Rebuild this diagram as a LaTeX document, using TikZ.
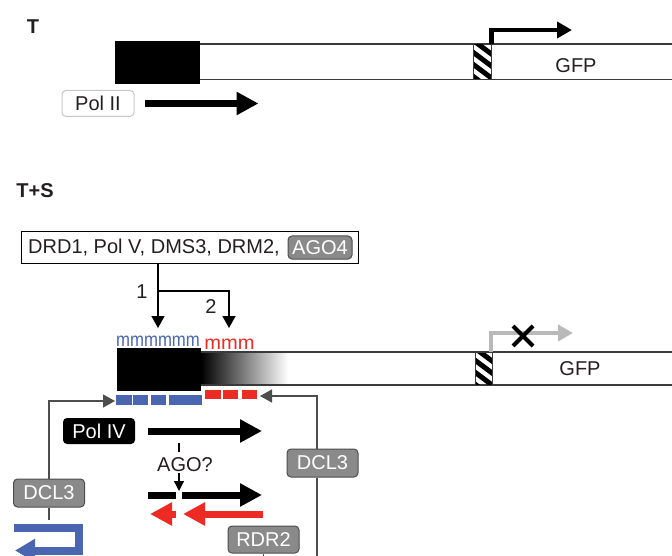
\documentclass[tikz,border=0pt]{standalone}
\usepackage{fontspec}
\usepackage{graphicx}
\setmainfont{Liberation Sans}
\usetikzlibrary{arrows.meta}
\definecolor{boxgray}{HTML}{8A8A8A}
\definecolor{boxedge}{HTML}{4D4D4D}
\definecolor{myblue}{HTML}{4A66B0}
\definecolor{myred}{HTML}{EE2A24}
\definecolor{lightarr}{HTML}{B9B9B9}
\definecolor{conngray}{HTML}{4D4D4D}
\definecolor{dnaline}{HTML}{3A3A3A}
\definecolor{txt}{HTML}{231F20}
\tikzset{
  lbl/.style={font=\fontsize{20}{24}\selectfont, text=txt, inner sep=0pt},
  ttl/.style={font=\fontsize{20}{24}\selectfont\bfseries, text=txt, inner sep=0pt},
  graybox/.style={draw=boxedge, fill=boxgray, rounded corners=4pt, line width=1pt, text=white, font=\fontsize{20}{24}\selectfont, minimum width=71pt, minimum height=28pt, inner sep=0pt},
  polbox/.style={rounded corners=4pt, line width=1pt, font=\fontsize{20}{24}\selectfont, minimum width=72pt, minimum height=26pt, inner sep=0pt},
  dna/.style={draw=dnaline, line width=1.2pt},
  bigarrow/.style={line width=7pt, -{Triangle[length=22pt,width=22pt]}},
  thinarrow/.style={draw=conngray, line width=1.5pt, -{Triangle[length=12pt,width=13pt]}},
  conn/.style={draw=conngray, line width=1.5pt},
  prom/.style={line width=4.5pt, line join=miter, -{Triangle[length=15pt,width=16pt]}},
  hatchstripe/.style={line width=5pt},
}
\begin{document}
\begin{tikzpicture}[x=1pt,y=-1pt]
\useasboundingbox (0,0) rectangle (672,556);
% ---------------- T ----------------
\node[ttl] (tlab) at (33,27) {T};
\fill[black] (115,41) rectangle (200,84);
\draw[dna] (200,44) -- (672,44);
\draw[dna] (200,79.5) -- (672,79.5);
\begin{scope}
  \clip (473,44) rectangle (491,79.5);
  \foreach \y in {26,38,...,86} \draw[hatchstripe] (470,\y) -- (494,\y+18);
\end{scope}
\draw[dna, line width=1pt] (473,44) rectangle (491,79.5);
\draw[prom] (491.5,44) -- (491.5,30) -- (572,30);
\node[lbl] (gfp1) at (576,66) {GFP};
\node[polbox, draw=black!22, fill=white, text=txt] (pol2) at (98,103.5) {Pol II};
\draw[bigarrow] ([xshift=10pt]pol2.east) -- ++(114,0);
% ---------------- T+S ----------------
\node[ttl] (tslab) at (35,191) {T+S};
\node[draw=black, line width=1pt, minimum width=337pt, minimum height=31pt, inner sep=0pt] (drd) at (189.5,247.5) {};
\node[lbl, anchor=west] (drdtxt) at (28,248) {DRD1, Pol V, DMS3, DRM2,};
\node[graybox, minimum width=64pt, minimum height=23pt] (ago4) at (320,247.5) {AGO4};
\coordinate (br) at (158,291);
\draw[thinarrow, draw=black] (drd.south -| br) -- (158,328);
\draw[thinarrow, draw=black] (br) -- (229,291) -- (229,328);
\node[lbl] (n1) at (142,292) {1};
\node[lbl] (n2) at (211,307) {2};
\node[font=\fontsize{19.5}{22}\selectfont, text=myblue, inner sep=0pt] (mblue) at (158,341.5) {\scalebox{0.86}[1]{mmmmmm}};
\node[font=\fontsize{19.5}{22}\selectfont, text=myred, inner sep=0pt] (mred) at (229.5,344.5) {\scalebox{1.03}[1]{mmm}};
\fill[black] (117,348) rectangle (201,391);
\shade[left color=black, right color=white] (201,352) rectangle (288,385);
\draw[dna] (201,352) -- (672,352);
\draw[dna] (201,385) -- (672,385);
\begin{scope}
  \clip (475,352) rectangle (492,385);
  \foreach \y in {334,346,...,394} \draw[hatchstripe] (472,\y) -- (496,\y+18);
\end{scope}
\draw[dna, line width=1pt] (475,352) rectangle (492,385);
\draw[prom, draw=lightarr] (491,352) -- (491,333) -- (573,333);
\draw[line width=4pt] (513,326) -- (533,346) (513,346) -- (533,326);
\node[lbl] (gfp2) at (580,369) {GFP};
% small RNA dashes
\fill[myblue] (116,395) rectangle (131.5,405);
\fill[myblue] (133,395) rectangle (148,405);
\fill[myblue] (151,395) rectangle (166,405);
\fill[myblue] (169,395) rectangle (202,405);
\fill[myred] (205,390) rectangle (221,399);
\fill[myred] (223,390) rectangle (237.5,399);
\fill[myred] (242,390) rectangle (257,399);
% Pol IV
\node[polbox, fill=black, text=white] (pol4) at (99,431) {Pol IV};
\draw[bigarrow] ([xshift=12pt]pol4.east) -- (262,431);
\node[lbl] (ago) at (185,465) {AGO?};
\draw[line width=1.2pt] (179,443) -- (179,452);
\draw[line width=1.2pt, -{Triangle[length=10pt,width=10pt]}] (179,472.5) -- (179,491);
\draw[line width=7pt] (148,495) -- (176,495);
\draw[bigarrow] (182,495) -- (262,495);
\draw[bigarrow, draw=myred] (176,514) -- (150,514);
\draw[bigarrow, draw=myred] (263,514) -- (183,514);
% DCL3 boxes and connectors
\node[graybox] (dclR) at (322.5,463) {DCL3};
\node[graybox] (dclL) at (49,493) {DCL3};
\coordinate (rtop) at (317,396);
\coordinate (rbot) at (317,556);
\draw[thinarrow] (rtop |- dclR.north) -- (rtop) -- (260,396);
\draw[conn] (rtop |- dclR.south) -- (rbot);
\draw[thinarrow] (dclL.north) |- (115,401);
\draw[conn] (dclL.south) -- ++(0,12);
\draw[myblue, line width=8pt, line join=miter, -{Triangle[length=20pt,width=22pt]}] (14,527.5) -- (79,527.5) -- (79,550.5) -- (15,550.5);
\node[graybox, minimum height=27pt] (rdr2) at (263.5,539.5) {RDR2};
\draw[conn] (rdr2.south) -- ++(0,6);
\end{tikzpicture}
\end{document}
